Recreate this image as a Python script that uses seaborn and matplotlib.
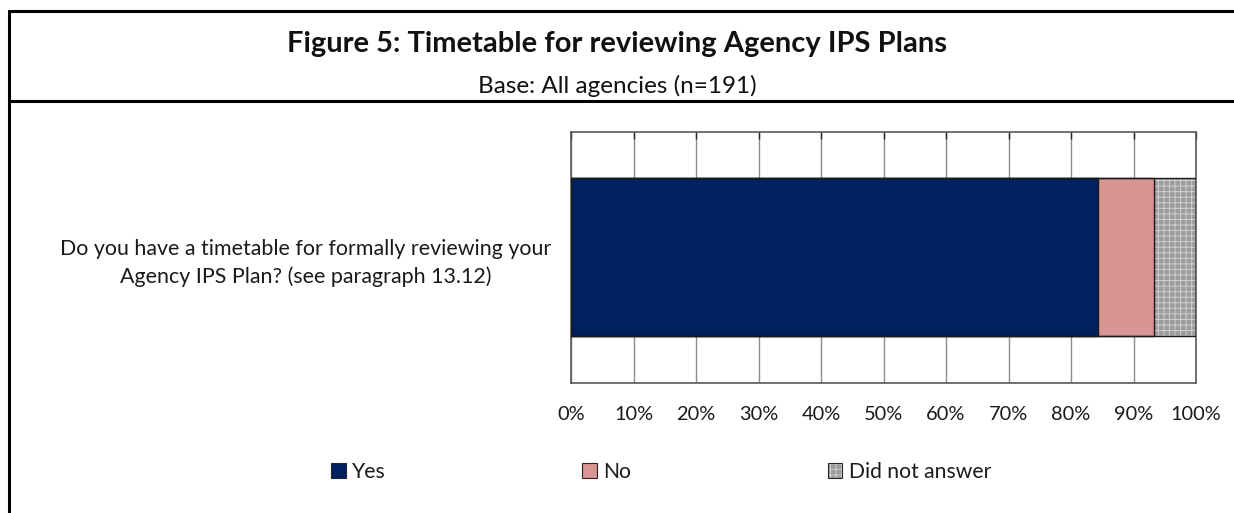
import matplotlib
matplotlib.use("Agg")
import matplotlib.pyplot as plt
from matplotlib.patches import Patch
from matplotlib.lines import Line2D
from matplotlib.legend_handler import HandlerTuple
import numpy as np
import pandas as pd
import seaborn as sns

# Survey responses, percent of agencies (n=191)
question = ["Do you have a timetable for formally reviewing your\nAgency IPS Plan? (see paragraph 13.12)"]
responses = ["Yes", "No", "Did not answer"]
shares = [84.3, 8.9, 6.8]
tick_labels = ["0%", "10%", "20%", "30%", "40%", "50%", "60%", "70%", "80%", "90%", "100%"]

colors = {"Yes": "#002060", "No": "#D99594", "Did not answer": "#9C9C9C"}
hatch_color = "#CFCFCF"

sns.set_theme(style="white")
plt.rcParams["font.family"] = ["Lato", "DejaVu Sans"]
plt.rcParams["hatch.linewidth"] = 0.7

fig = plt.figure(figsize=(12.34, 5.13), dpi=100)
ax = fig.add_axes([571 / 1234, 130.3 / 513, 625 / 1234, 251 / 513])

cum = np.cumsum(shares)
df = pd.DataFrame({"question": question * len(responses), "response": responses, "end": cum})

bar_w = 0.628
# stacked bars: draw the longest cumulative segment first so shorter ones sit on top
for resp, end in reversed(list(zip(responses, cum))):
    sub = df[df["response"] == resp]
    if resp == "Did not answer":
        sns.barplot(data=sub, x="end", y="question", orient="h", ax=ax, width=bar_w,
                    color=colors[resp], saturation=1, linewidth=0, edgecolor=hatch_color,
                    hatch="+++", zorder=2)
    else:
        sns.barplot(data=sub, x="end", y="question", orient="h", ax=ax, width=bar_w,
                    color=colors[resp], saturation=1, linewidth=0, zorder=2)
# segment outlines
for end in reversed(cum):
    sub = df[df["end"] == end]
    sns.barplot(data=sub, x="end", y="question", orient="h", ax=ax, width=bar_w,
                fill=False, color="#1a1a1a", linewidth=1.0, zorder=3)

ax.set_xlim(0, 100)
ax.set_ylim(0.5, -0.5)
ax.set_xticks(np.arange(0, 101, 10))
ax.set_xticklabels(tick_labels, fontsize=14.4, color="#1a1a1a")
ax.set_xlabel("")
ax.set_ylabel("")
ax.set_yticks([0])
ax.set_yticklabels(question, fontsize=15.4, color="#1a1a1a", ha="center",
                   multialignment="center", linespacing=1.45)
ax.tick_params(axis="y", length=0, pad=191)
ax.tick_params(axis="x", bottom=False, top=True, direction="in", length=5, color="#262626",
               width=1, labelbottom=True, labeltop=False, pad=17)
ax.xaxis.grid(True, color="#8c8c8c", linewidth=1.0, zorder=0)
ax.set_axisbelow(True)
for s in ax.spines.values():
    s.set_visible(True)
    s.set_color("#595959")
    s.set_linewidth(1.2)

# titles
fig.text(0.5, 1 - 44 / 513, "Figure 5: Timetable for reviewing Agency IPS Plans",
         ha="center", va="center", fontsize=21.0, fontweight="bold", color="#111111")
fig.text(0.5, 1 - 86 / 513, "Base: All agencies (n=191)",
         ha="center", va="center", fontsize=17.5, color="#111111")

# frame around the figure and the title separator
frame_kw = dict(color="black", linewidth=2.2, transform=fig.transFigure)
fig.add_artist(Line2D([9 / 1234, 9 / 1234], [0, 1 - 11 / 513], **frame_kw))
fig.add_artist(Line2D([9 / 1234, 1], [1 - 11 / 513, 1 - 11 / 513], **frame_kw))
fig.add_artist(Line2D([9 / 1234, 1], [1 - 101 / 513, 1 - 101 / 513], **frame_kw))

# legend
handles = []
for resp in responses:
    if resp == "Did not answer":
        handles.append((Patch(facecolor=colors[resp], edgecolor=hatch_color, hatch="+++", linewidth=0),
                        Patch(facecolor="none", edgecolor="#262626", linewidth=0.8)))
    else:
        handles.append(Patch(facecolor=colors[resp], edgecolor="#262626", linewidth=0.8))
leg = fig.legend(handles=handles, labels=responses, loc="center",
                 bbox_to_anchor=(661 / 1234, 1 - 472 / 513),
                 handler_map={tuple: HandlerTuple(ndivide=1, pad=0)},
                 ncol=3, frameon=False, fontsize=15.2, handlelength=0.7, handleheight=0.7,
                 handletextpad=0.3, columnspacing=9.3)
for t in leg.get_texts():
    t.set_color("#1a1a1a")

fig.savefig("out.png", dpi=100)
